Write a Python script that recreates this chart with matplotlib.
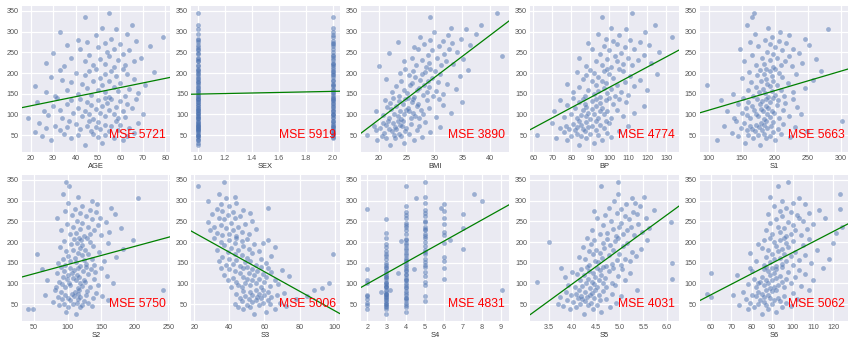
import numpy as np
import matplotlib
matplotlib.use("Agg")
import matplotlib.pyplot as plt

plt.rcParams["font.family"] = ["Liberation Sans", "DejaVu Sans"]

# ---------------- data ----------------
features = ["AGE", "SEX", "BMI", "BP", "S1", "S2", "S3", "S4", "S5", "S6"]
mse_values = [5721, 5919, 3890, 4774, 5663, 5750, 5006, 4831, 4031, 5062]

# fitted line per feature: y = intercept + slope * x
fit_slope = [1.11, 6.6, 10.23, 2.46, 0.473, 0.441, -2.355, 25.7, 83.6, 2.56]
fit_intercept = [98.3, 142.4, -117.8, -80.7, 62.7, 101.2, 269.4, 47.5, -235.9, -81.5]

xticks = [
    [20, 30, 40, 50, 60, 70, 80],
    [1.0, 1.2, 1.4, 1.6, 1.8, 2.0],
    [20, 25, 30, 35, 40],
    [60, 70, 80, 90, 100, 110, 120, 130],
    [100, 150, 200, 250, 300],
    [50, 100, 150, 200, 250],
    [20, 40, 60, 80, 100],
    [2, 3, 4, 5, 6, 7, 8, 9],
    [3.5, 4.0, 4.5, 5.0, 5.5, 6.0],
    [60, 70, 80, 90, 100, 110, 120],
]
yticks = [50, 100, 150, 200, 250, 300, 350]

target = [
    25, 31, 37, 39, 42, 43, 45, 47, 48, 49, 51, 52, 53, 55, 57, 59, 60, 61, 63, 64,
    65, 66, 68, 69, 70, 71, 72, 72, 74, 75, 77, 78, 79, 81, 83, 84, 85,
    88, 90, 91, 92, 94, 96, 97, 99, 100, 101, 102, 104, 104, 107, 108, 109, 110, 111, 113, 115,
    116, 118, 120, 121, 122, 124, 126, 128, 129, 131, 132, 134, 135, 136, 137, 138, 139, 140,
    142, 144, 145, 147, 150, 151, 153, 155, 156, 158, 160, 162, 164, 166, 168, 170, 172, 173, 175, 178,
    180, 181, 183, 185, 187, 190, 192, 195, 197, 198, 200, 202, 204, 206, 208, 209, 210,
    214, 216, 219, 220, 222, 225, 228, 230, 232, 233, 236, 237, 241, 243, 245, 248, 252, 256, 258, 259,
    263, 265, 268, 270, 272, 275, 277, 280, 283, 288, 292, 295, 300, 306, 310, 317, 336, 346,
]

age = [
    44, 52, 61, 29, 57, 38, 50, 25, 63, 41, 53, 35, 48, 66, 22, 55, 47, 33, 59, 51,
    42, 27, 64, 49, 36, 56, 45, 31, 60, 53, 40, 68, 24, 50, 58, 37, 46,
    48, 19, 59, 34, 62, 43, 53, 28, 57, 46, 70, 39, 51, 26, 61, 44, 55, 33, 49, 65,
    41, 58, 30, 52, 47, 36, 63, 54, 23, 45, 60, 38, 50, 67, 42, 56, 32, 53,
    55, 31, 62, 47, 41, 68, 53, 27, 59, 50, 36, 64, 45, 57, 22, 52, 71, 43, 60, 38,
    55, 48, 34, 66, 51, 29, 58, 44, 63, 53, 40, 75, 46, 56, 33, 61, 49,
    57, 35, 62, 48, 53, 27, 66, 44, 59, 51, 38, 69, 55, 46, 61, 30, 54, 64, 42, 57,
    50, 73, 36, 60, 53, 45, 67, 41, 56, 79, 49, 63, 33, 58, 52, 65, 44, 55,
]

sex = [
    1, 1, 1, 1, 2, 1, 2, 1, 1, 2, 1, 2, 1, 2, 1, 1, 2, 1, 2, 1,
    1, 2, 1, 1, 2, 1, 2, 1, 2, 1, 1, 2, 1, 1, 2, 1, 2,
    1, 1, 2, 1, 2, 1, 1, 2, 2, 1, 2, 1, 1, 2, 1, 2, 1, 1, 2, 1,
    1, 2, 2, 1, 1, 2, 1, 2, 1, 1, 2, 1, 2, 1, 1, 2, 1, 2,
    2, 1, 1, 2, 1, 2, 2, 1, 1, 2, 1, 2, 1, 1, 2, 1, 2, 2, 1, 1,
    2, 1, 2, 1, 1, 2, 1, 2, 2, 1, 1, 2, 1, 2, 1, 1, 2,
    2, 1, 2, 1, 2, 2, 1, 1, 2, 1, 2, 1, 2, 2, 1, 1, 2, 1, 2, 1,
    1, 2, 1, 2, 2, 1, 2, 1, 1, 2, 2, 1, 2, 1, 2, 1, 2, 1,
]

bmi = [
    22.1, 24.5, 19.8, 26.3, 21.4, 23.0, 27.8, 20.6, 24.0, 22.7, 18.0, 25.4, 23.6, 21.0, 29.3, 22.4, 24.8, 19.5, 26.9, 23.2,
    21.8, 25.0, 20.3, 31.0, 22.9, 24.2, 19.2, 27.2, 23.8, 21.3, 25.8, 22.5, 20.8, 28.4, 24.4, 21.6, 23.4,
    24.1, 27.3, 21.9, 25.8, 30.2, 23.4, 26.5, 20.7, 28.0, 24.6, 22.8, 26.1, 33.0, 23.9, 25.5, 19.6, 27.6, 24.9, 22.3, 29.1,
    25.2, 21.5, 26.8, 23.1, 31.6, 24.4, 27.0, 22.0, 25.9, 35.0, 23.6, 28.6, 21.2, 26.2, 24.7, 30.8, 22.6, 25.3,
    26.4, 29.8, 23.7, 27.9, 31.5, 25.1, 28.6, 22.4, 30.3, 26.9, 24.5, 33.8, 27.3, 29.1, 23.2, 28.1, 25.7, 32.2, 26.0, 30.7,
    24.0, 28.9, 27.5, 21.4, 29.5, 26.6, 34.6, 25.4, 31.0, 27.7, 23.9, 28.3, 30.1, 26.2, 36.1, 24.8, 29.3,
    28.5, 20.1, 31.2, 26.7, 33.4, 29.0, 24.6, 32.1, 27.8, 35.2, 30.4, 25.9, 42.2, 28.9, 31.8, 21.8, 34.0, 29.6, 27.1, 32.7,
    26.3, 30.9, 36.4, 28.2, 33.1, 23.5, 31.5, 29.3, 34.8, 27.4, 32.4, 37.5, 30.0, 35.6, 33.0, 38.3, 29.2, 41.3,
]

bp = [
    84, 92, 78, 96, 88, 72, 101, 85, 80, 94, 62, 90, 83, 99, 76, 87, 105, 82, 93, 79,
    86, 97, 74, 89, 83, 110, 91, 77, 95, 85, 81, 100, 70, 88, 93, 84, 98,
    90, 83, 101, 94, 76, 88, 107, 85, 97, 92, 80, 113, 89, 95, 71, 99, 86, 104, 91, 82,
    96, 88, 118, 93, 78, 102, 87, 95, 84, 109, 91, 74, 98, 86, 105, 93, 81, 100,
    95, 103, 87, 110, 92, 99, 81, 106, 94, 120, 89, 101, 97, 84, 113, 93, 104, 78, 98, 108,
    91, 96, 116, 86, 102, 94, 111, 88, 100, 125, 92, 83, 107, 97, 90, 105, 99,
    101, 88, 112, 96, 107, 122, 93, 104, 115, 99, 84, 110, 103, 118, 95, 106, 126, 100, 91, 113,
    108, 97, 121, 104, 89, 116, 102, 111, 98, 133, 105, 94, 119, 109, 101, 124, 96, 112,
]

s1 = [
    178, 155, 201, 112, 186, 167, 223, 145, 192, 174, 160, 210, 183, 136, 197, 170, 248, 158, 181, 165,
    205, 149, 188, 176, 230, 162, 194, 123, 184, 171, 213, 153, 179, 198, 142, 187, 301,
    184, 162, 207, 139, 193, 175, 221, 158, 188, 171, 240, 150, 199, 182, 128, 196, 168, 212, 179, 156,
    190, 234, 165, 186, 203, 145, 177, 216, 160, 192, 181, 118, 205, 173, 227, 187, 152, 198,
    190, 214, 167, 201, 137, 185, 228, 176, 196, 159, 209, 182, 245, 171, 193, 97, 204, 188, 220, 164,
    198, 179, 257, 186, 150, 211, 195, 173, 232, 183, 206, 161, 192, 270, 178, 200, 186,
    198, 226, 172, 209, 184, 241, 153, 215, 193, 262, 180, 204, 221, 166, 197, 236, 188, 211, 147, 228,
    200, 175, 252, 192, 217, 163, 206, 185, 245, 196, 222, 170, 208, 280, 190, 158, 165, 168,
]

s2 = [
    112, 98, 48, 41.6, 118, 101, 136, 87, 121, 108, 95, 131, 114, 78, 125, 104, 160, 92, 116, 100,
    138, 86, 119, 110, 152, 97, 127, 66, 115, 106, 142, 90, 111, 129, 82, 117, 242.4,
    115, 96, 133, 83, 121, 104, 145, 92, 118, 102, 168, 88, 126, 112, 70, 124, 99, 139, 108, 94,
    117, 158, 101, 114, 130, 85, 107, 141, 95, 123, 110, 62, 135, 103, 150, 116, 91, 127,
    119, 140, 97, 128, 86, 113, 155, 104, 124, 93, 136, 111, 172, 101, 122, 55, 131, 115, 147, 98,
    126, 108, 183, 118, 89, 138, 121, 105, 160, 114, 133, 95, 120, 198, 109, 129, 117,
    125, 150, 103, 134, 112, 162, 90, 140, 118, 180, 108, 131, 146, 99, 122, 157, 114, 137, 84, 149,
    127, 106, 170, 119, 142, 96, 133, 111, 165, 121, 144, 101, 136, 205, 116, 93, 102, 98,
]

s3 = [
    54, 61, 48, 66, 52, 45, 72, 57, 50, 63, 43, 59, 69, 53, 47, 62, 55, 78, 51, 58,
    46, 64, 56, 84, 49, 60, 53, 67, 44, 57, 71, 52, 62, 48, 88, 55, 59,
    93, 47, 58, 41, 63, 52, 45, 68, 55, 49, 97, 60, 44, 53, 39, 66, 50, 57, 42, 61,
    48, 74, 54, 37, 59, 46, 51, 64, 43, 56, 70, 40, 53, 48, 62, 35, 58, 50,
    46, 38, 55, 42, 61, 49, 34, 52, 44, 58, 40, 50, 36, 64, 47, 99, 43, 53, 39, 57,
    45, 33, 51, 41, 66, 48, 37, 54, 43, 59, 35, 47, 62, 40, 50, 31, 44,
    44, 36, 51, 40, 33, 47, 29, 42, 55, 38, 31, 45, 35, 49, 41, 28, 53, 37, 43, 34,
    46, 39, 30, 52, 42, 36, 48, 33, 62, 40, 35, 44, 28, 38, 43, 34, 22, 37,
]

s4 = [
    3, 4, 3, 2, 4, 3, 3, 2, 4, 3, 3, 4, 2, 3, 5, 3, 4, 2, 3, 4,
    4, 3, 3, 2, 5, 3, 4, 2, 3, 3, 4, 3, 2.71, 4, 3, 3.21, 9.09,
    4, 3, 4, 3, 3, 5, 4, 3, 2, 4, 3, 5, 3, 4, 2, 4, 3, 6, 4, 3,
    3, 5, 4, 3, 4, 3.58, 3, 5, 4, 3, 4, 2, 4.46, 3, 6, 4, 3, 5,
    4, 5, 3, 4, 3, 5, 6, 4, 4, 3, 5, 4, 6, 3, 4, 3, 5, 4, 5, 3,
    4, 5, 7, 4, 3, 5, 4, 3, 6, 4, 5, 3.77, 4, 6.32, 4, 5, 3,
    5, 6, 4, 5, 3, 6, 4, 5, 5, 7, 4, 5, 4, 6, 4, 5, 5, 3, 4, 6,
    5, 4, 7, 5, 4, 6, 5, 2, 5.87, 4, 6, 5, 8, 4.55, 5, 7.6, 4, 5,
]

s5 = [
    4.25, 4.61, 3.95, 4.44, 4.08, 4.79, 3.81, 4.33, 4.52, 4.17, 3.69, 4.39, 4.92, 4.02, 4.28, 4.58, 3.89, 4.21, 4.71, 4.13,
    4.46, 3.74, 4.31, 5.04, 4.19, 4.56, 3.98, 4.37, 4.84, 4.09, 4.42, 4.26, 3.86, 4.66, 4.14, 4.49, 5.37,
    4.38, 4.72, 4.05, 4.53, 4.21, 4.91, 3.92, 4.47, 4.64, 4.29, 4.83, 3.258, 4.41, 4.16, 5.12, 4.56, 6.107, 4.34, 4.69, 3.84,
    4.49, 4.97, 4.25, 4.61, 4.11, 5.23, 4.44, 3.99, 4.78, 4.36, 4.58, 4.19, 5.05, 4.52, 3.77, 4.87, 4.31, 4.66,
    4.71, 5.02, 4.36, 4.83, 6.10, 4.55, 5.21, 4.48, 4.94, 4.27, 5.11, 4.62, 4.14, 5.34, 4.77, 4.43, 4.99, 4.58, 5.27, 4.35,
    4.86, 4.51, 5.45, 4.68, 4.22, 5.07, 4.79, 4.39, 5.15, 4.64, 3.50, 4.91, 4.47, 5.58, 4.73, 4.31, 4.96,
    4.92, 5.31, 4.58, 5.08, 4.74, 5.47, 4.41, 5.16, 4.87, 5.62, 4.99, 5.24, 4.65, 5.39, 5.03, 6.08, 4.81, 5.19, 4.53, 5.55,
    5.11, 4.69, 5.36, 4.95, 5.28, 4.47, 5.72, 5.04, 4.78, 5.43, 5.14, 5.33, 4.89, 5.26, 5.51, 4.97, 4.60, 4.96,
]

s6 = [
    85, 92, 78, 88, 95, 81, 99, 74, 87, 90, 83, 97, 79, 86, 94, 91, 84, 102, 77, 89,
    93, 60, 86, 82, 96, 80, 88, 71, 58, 85, 100, 83, 76, 90, 108, 87, 92,
    89, 96, 82, 91, 104, 86, 93, 78, 99, 88, 83, 95, 84, 90, 110, 87, 97, 81, 92, 101,
    85, 94, 73, 89, 106, 60, 91, 98, 80, 88, 103, 92, 86, 115, 90, 79, 95, 87,
    92, 100, 86, 95, 109, 89, 97, 82, 103, 91, 118, 94, 87, 99, 106, 90, 96, 79, 101, 93,
    88, 112, 95, 85, 98, 92, 105, 83, 97, 120, 91, 100, 86, 94, 108, 89, 96,
    97, 104, 90, 99, 121, 94, 101, 87, 107, 96, 124, 93, 100, 110, 89, 98, 105, 92, 103, 116,
    95, 102, 88, 108, 99, 94, 113, 123, 97, 91, 106, 100, 95, 103, 89, 123, 93, 98,
]

feature_values = [age, sex, bmi, bp, s1, s2, s3, s4, s5, s6]

# ---------------- figure ----------------
W, H = 849, 339
fig = plt.figure(figsize=(W / 100, H / 100), dpi=100)
fig.patch.set_facecolor("white")

ax_w = 148.5 / W
ax_h = 146.0 / H
lefts = [(21.5 + 169.6 * c) / W for c in range(5)]
bottoms = [1 - 152.0 / H, 1 - 321.0 / H]

point_color = "#4C72B0"
tick_color = "#555555"

for i, name in enumerate(features):
    r, c = divmod(i, 5)
    ax = fig.add_axes([lefts[c], bottoms[r], ax_w, ax_h])
    ax.set_facecolor("#EAEAF2")
    for sp in ax.spines.values():
        sp.set_visible(False)
    ax.set_axisbelow(True)
    ax.grid(True, color="white", linewidth=0.9)

    x = np.asarray(feature_values[i], dtype=float)
    y = np.asarray(target, dtype=float)
    ax.scatter(x, y, s=12, color=point_color, alpha=0.5, linewidths=0)
    ax.margins(0.05)
    ax.autoscale_view()
    xl = ax.get_xlim()
    yl = ax.get_ylim()
    xs = np.array(xl)
    ax.plot(xs, fit_intercept[i] + fit_slope[i] * xs, color="green", linewidth=0.9)
    ax.set_xlim(xl)
    ax.set_ylim(yl)

    ax.set_xticks(xticks[i])
    ax.set_yticks(yticks)
    if name == "SEX" or name == "S5":
        ax.set_xticklabels([f"{t:.1f}" for t in xticks[i]])
    ax.tick_params(axis="both", length=0, labelsize=5.2, labelcolor=tick_color, pad=2.2)
    ax.set_xlabel(name, fontsize=5.4, color="#333333", labelpad=0.8)

    ax.text(0.59, 0.095, f"MSE {mse_values[i]}", transform=ax.transAxes,
            color="red", fontsize=8.7, ha="left", va="baseline")

fig.savefig("out.png", dpi=100, facecolor="white")
